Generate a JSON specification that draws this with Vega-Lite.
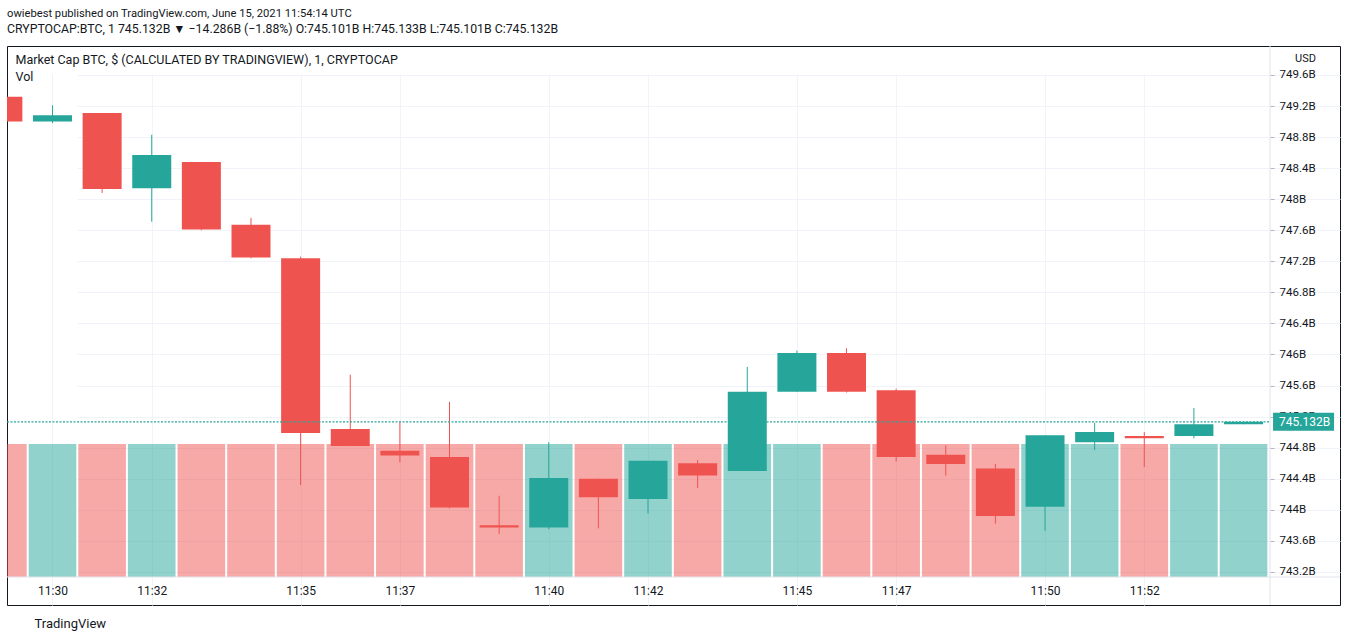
{
  "$schema": "https://vega.github.io/schema/vega-lite/v6.json",
  "autosize": "none",
  "padding": {"left": 7, "top": 46, "right": 7, "bottom": 37},
  "width": 1333,
  "height": 559,
  "background": "#ffffff",
  "config": {
    "view": {"stroke": "#131722", "strokeWidth": 1},
    "font": "Roboto"
  },
  "title": {
    "text": "owiebest published on TradingView.com, June 15, 2021 11:54:14 UTC",
    "subtitle": "CRYPTOCAP:BTC, 1  745.132B ▼ −14.286B (−1.88%)  O:745.101B  H:745.133B  L:745.101B  C:745.132B",
    "anchor": "start",
    "frame": "group",
    "offset": 10,
    "fontSize": 11.2,
    "fontWeight": "normal",
    "color": "#131722",
    "subtitleFontSize": 12.3,
    "subtitleColor": "#131722",
    "subtitlePadding": 4
  },
  "data": {
    "values": [
      {"t": "2021-06-15T11:29:00Z", "open": 749.32, "high": 749.34, "low": 748.98, "close": 749.0, "vol": 1},
      {"t": "2021-06-15T11:30:00Z", "open": 749.0, "high": 749.21, "low": 748.98, "close": 749.08, "vol": 1},
      {"t": "2021-06-15T11:31:00Z", "open": 749.11, "high": 749.11, "low": 748.08, "close": 748.13, "vol": 1},
      {"t": "2021-06-15T11:32:00Z", "open": 748.14, "high": 748.83, "low": 747.71, "close": 748.57, "vol": 1},
      {"t": "2021-06-15T11:33:00Z", "open": 748.48, "high": 748.48, "low": 747.6, "close": 747.61, "vol": 1},
      {"t": "2021-06-15T11:34:00Z", "open": 747.67, "high": 747.76, "low": 747.24, "close": 747.25, "vol": 1},
      {"t": "2021-06-15T11:35:00Z", "open": 747.24, "high": 747.26, "low": 744.32, "close": 744.99, "vol": 1},
      {"t": "2021-06-15T11:36:00Z", "open": 745.04, "high": 745.74, "low": 744.82, "close": 744.82, "vol": 1},
      {"t": "2021-06-15T11:37:00Z", "open": 744.76, "high": 745.13, "low": 744.61, "close": 744.7, "vol": 1},
      {"t": "2021-06-15T11:38:00Z", "open": 744.68, "high": 745.39, "low": 744.02, "close": 744.03, "vol": 1},
      {"t": "2021-06-15T11:39:00Z", "open": 743.8, "high": 744.18, "low": 743.69, "close": 743.77, "vol": 1},
      {"t": "2021-06-15T11:40:00Z", "open": 743.77, "high": 744.87, "low": 743.75, "close": 744.41, "vol": 1},
      {"t": "2021-06-15T11:41:00Z", "open": 744.4, "high": 744.4, "low": 743.76, "close": 744.16, "vol": 1},
      {"t": "2021-06-15T11:42:00Z", "open": 744.14, "high": 744.63, "low": 743.95, "close": 744.63, "vol": 1},
      {"t": "2021-06-15T11:43:00Z", "open": 744.6, "high": 744.64, "low": 744.28, "close": 744.44, "vol": 1},
      {"t": "2021-06-15T11:44:00Z", "open": 744.5, "high": 745.84, "low": 744.5, "close": 745.52, "vol": 1},
      {"t": "2021-06-15T11:45:00Z", "open": 745.52, "high": 746.05, "low": 745.52, "close": 746.02, "vol": 1},
      {"t": "2021-06-15T11:46:00Z", "open": 746.02, "high": 746.08, "low": 745.51, "close": 745.52, "vol": 1},
      {"t": "2021-06-15T11:47:00Z", "open": 745.54, "high": 745.56, "low": 744.62, "close": 744.68, "vol": 1},
      {"t": "2021-06-15T11:48:00Z", "open": 744.71, "high": 744.83, "low": 744.44, "close": 744.59, "vol": 1},
      {"t": "2021-06-15T11:49:00Z", "open": 744.53, "high": 744.59, "low": 743.82, "close": 743.92, "vol": 1},
      {"t": "2021-06-15T11:50:00Z", "open": 744.04, "high": 744.96, "low": 743.73, "close": 744.96, "vol": 1},
      {"t": "2021-06-15T11:51:00Z", "open": 744.87, "high": 745.12, "low": 744.77, "close": 745.0, "vol": 1},
      {"t": "2021-06-15T11:52:00Z", "open": 744.95, "high": 745.0, "low": 744.55, "close": 744.92, "vol": 1},
      {"t": "2021-06-15T11:53:00Z", "open": 744.95, "high": 745.31, "low": 744.92, "close": 745.1, "vol": 1},
      {"t": "2021-06-15T11:54:00Z", "open": 745.101, "high": 745.133, "low": 745.101, "close": 745.132, "vol": 1}
    ]
  },
  "layer": [
    {
      "mark": {"type": "bar", "width": 47.6, "clip": true, "opacity": 0.5},
      "encoding": {
        "x": {
          "field": "t",
          "type": "temporal",
          "scale": {
            "type": "utc",
            "domain": [
              {"year": 2021, "month": 6, "date": 15, "hours": 11, "minutes": 29, "seconds": 5, "utc": true},
              {"year": 2021, "month": 6, "date": 15, "hours": 11, "minutes": 54, "seconds": 32, "utc": true}
            ],
            "range": [0, 1263],
            "padding": 0,
            "nice": false
          },
          "axis": {
            "orient": "bottom",
            "offset": -28,
            "values": [
              {"year": 2021, "month": 6, "date": 15, "hours": 11, "minutes": 30, "utc": true},
              {"year": 2021, "month": 6, "date": 15, "hours": 11, "minutes": 32, "utc": true},
              {"year": 2021, "month": 6, "date": 15, "hours": 11, "minutes": 35, "utc": true},
              {"year": 2021, "month": 6, "date": 15, "hours": 11, "minutes": 37, "utc": true},
              {"year": 2021, "month": 6, "date": 15, "hours": 11, "minutes": 40, "utc": true},
              {"year": 2021, "month": 6, "date": 15, "hours": 11, "minutes": 42, "utc": true},
              {"year": 2021, "month": 6, "date": 15, "hours": 11, "minutes": 45, "utc": true},
              {"year": 2021, "month": 6, "date": 15, "hours": 11, "minutes": 47, "utc": true},
              {"year": 2021, "month": 6, "date": 15, "hours": 11, "minutes": 50, "utc": true},
              {"year": 2021, "month": 6, "date": 15, "hours": 11, "minutes": 52, "utc": true}
            ],
            "tickCount": 40,
            "format": "%H:%M",
            "grid": true,
            "gridColor": "#f0f3fa",
            "gridWidth": 1,
            "domain": false,
            "ticks": false,
            "labelPadding": 8,
            "labelFontSize": 12,
            "labelColor": "#131722",
            "labelFlush": false,
            "labelOverlap": false,
            "title": "TradingView",
            "titleX": 27,
            "titleY": 46,
            "titleAlign": "left",
            "titleBaseline": "middle",
            "titleAngle": 0,
            "titleFontSize": 13,
            "titleFontWeight": "normal",
            "titleColor": "#131722"
          }
        },
        "y": {
          "field": "vol",
          "type": "quantitative",
          "scale": {"domain": [0, 3.992], "range": [531, 0], "nice": false, "padding": 0},
          "axis": {
            "orient": "left",
            "labels": false,
            "ticks": false,
            "domain": false,
            "grid": false,
            "title": ["Market Cap BTC, $ (CALCULATED BY TRADINGVIEW), 1, CRYPTOCAP", "Vol"],
            "titleAngle": 0,
            "titleX": 8,
            "titleY": 7,
            "titleAlign": "left",
            "titleBaseline": "top",
            "titleFontSize": 12.5,
            "titleFontWeight": "normal",
            "titleLineHeight": 17,
            "titleColor": "#131722"
          }
        },
        "color": {
          "condition": {"test": "datum.close >= datum.open", "value": "#26a69a"},
          "value": "#ef5350"
        }
      }
    },
    {
      "layer": [
        {
          "mark": {"type": "rule", "clip": true, "strokeWidth": 1},
          "encoding": {
            "x": {"field": "t", "type": "temporal"},
            "y": {
              "field": "low",
              "type": "quantitative",
              "scale": {"domain": [743.134, 749.973], "range": [531, 0], "nice": false, "zero": false, "padding": 0},
              "axis": {
                "orient": "right",
                "offset": -70,
                "values": [743.2, 743.6, 744, 744.4, 744.8, 745.2, 745.6, 746, 746.4, 746.8, 747.2, 747.6, 748, 748.4, 748.8, 749.2, 749.6],
                "tickCount": 40,
                "labelExpr": "format(datum.value, '.1~f') + 'B'",
                "grid": true,
                "gridColor": "#f0f3fa",
                "gridWidth": 1,
                "domain": false,
                "ticks": true,
                "tickSize": 4,
                "tickColor": "#b2b5be",
                "labelPadding": 5,
                "labelFontSize": 11.5,
                "labelColor": "#131722",
                "labelOverlap": false,
                "labelFlush": false,
                "title": "USD",
                "titleAngle": 0,
                "titleX": 35,
                "titleY": 12,
                "titleAlign": "center",
                "titleBaseline": "middle",
                "titleFontSize": 11,
                "titleFontWeight": "normal",
                "titleColor": "#131722"
              }
            },
            "y2": {"field": "high"},
            "color": {
              "condition": {"test": "datum.close >= datum.open", "value": "#26a69a"},
              "value": "#ef5350"
            }
          }
        },
        {
          "mark": {"type": "bar", "width": 39, "clip": true},
          "encoding": {
            "x": {"field": "t", "type": "temporal"},
            "y": {"field": "open", "type": "quantitative"},
            "y2": {"field": "close"},
            "color": {
              "condition": {"test": "datum.close >= datum.open", "value": "#26a69a"},
              "value": "#ef5350"
            }
          }
        },
        {
          "data": {"values": [{}]},
          "mark": {"type": "rule", "color": "#26a69a", "strokeWidth": 1.3, "strokeDash": [2, 1.5]},
          "encoding": {
            "x": {"datum": {"year": 2021, "month": 6, "date": 15, "hours": 11, "minutes": 29, "seconds": 5, "utc": true}, "type": "temporal"},
            "x2": {"datum": {"year": 2021, "month": 6, "date": 15, "hours": 11, "minutes": 54, "seconds": 32, "utc": true}},
            "y": {"datum": 745.132, "type": "quantitative"}
          }
        },
        {
          "data": {"values": [{}]},
          "mark": {"type": "rule", "color": "#e0e3eb", "strokeWidth": 1},
          "encoding": {
            "x": {"datum": {"year": 2021, "month": 6, "date": 15, "hours": 11, "minutes": 54, "seconds": 32, "utc": true}, "type": "temporal"}
          }
        },
        {
          "data": {"values": [{}]},
          "mark": {"type": "rule", "color": "#e0e3eb", "strokeWidth": 1},
          "encoding": {
            "y": {"datum": 743.134, "type": "quantitative"}
          }
        },
        {
          "data": {"values": [{}]},
          "mark": {"type": "point", "shape": "M0.1,-0.295L2.1,-0.295L2.1,0.295L0.1,0.295Z", "size": 3721, "filled": true, "color": "#26a69a", "opacity": 1},
          "encoding": {
            "x": {"datum": {"year": 2021, "month": 6, "date": 15, "hours": 11, "minutes": 54, "seconds": 32, "utc": true}, "type": "temporal"},
            "y": {"datum": 745.132, "type": "quantitative"}
          }
        },
        {
          "data": {"values": [{}]},
          "mark": {"type": "text", "text": "745.132B", "color": "#ffffff", "align": "left", "baseline": "middle", "dx": 9, "fontSize": 12},
          "encoding": {
            "x": {"datum": {"year": 2021, "month": 6, "date": 15, "hours": 11, "minutes": 54, "seconds": 32, "utc": true}, "type": "temporal"},
            "y": {"datum": 745.132, "type": "quantitative"}
          }
        }
      ]
    }
  ],
  "resolve": {"scale": {"y": "independent"}}
}
